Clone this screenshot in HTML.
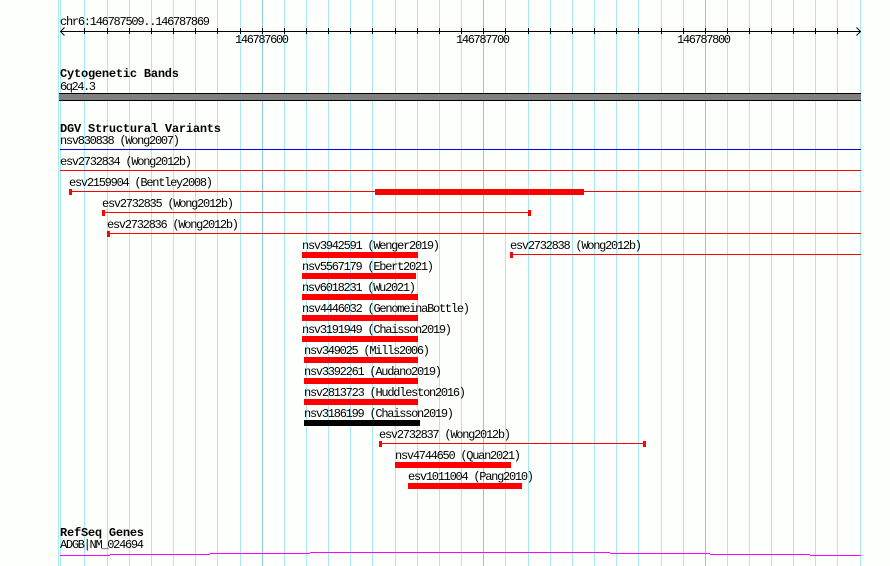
<!DOCTYPE html>
<html>
<head>
<meta charset="utf-8">
<style>
  html, body { margin:0; padding:0; background:#fdfffc; }
  svg { display:block; }
  .t { font-family:"Liberation Mono", "DejaVu Sans Mono", monospace; font-size:12px; fill:#000; }
  .b { font-family:"Liberation Mono", "DejaVu Sans Mono", monospace; font-size:12px; font-weight:bold; fill:#000; }
</style>
</head>
<body>
<svg width="890" height="566" viewBox="0 0 890 566" xmlns="http://www.w3.org/2000/svg" shape-rendering="crispEdges">
  <rect x="0" y="0" width="890" height="566" fill="#fdfffc"/>
  <!-- grid lines -->
  <g fill="#a8eaf0">
    <rect x="58" y="0" width="1" height="566"/>
    <rect x="60" y="0" width="1" height="566"/>
    <rect x="84" y="0" width="1" height="566"/>
    <rect x="107" y="0" width="1" height="566"/>
    <rect x="129" y="0" width="1" height="566"/>
    <rect x="151" y="0" width="1" height="566"/>
    <rect x="173" y="0" width="1" height="566"/>
    <rect x="195" y="0" width="1" height="566"/>
    <rect x="217" y="0" width="1" height="566"/>
    <rect x="240" y="0" width="1" height="566"/>
    <rect x="284" y="0" width="1" height="566"/>
    <rect x="306" y="0" width="1" height="566"/>
    <rect x="328" y="0" width="1" height="566"/>
    <rect x="350" y="0" width="1" height="566"/>
    <rect x="372" y="0" width="1" height="566"/>
    <rect x="395" y="0" width="1" height="566"/>
    <rect x="417" y="0" width="1" height="566"/>
    <rect x="439" y="0" width="1" height="566"/>
    <rect x="461" y="0" width="1" height="566"/>
    <rect x="505" y="0" width="1" height="566"/>
    <rect x="528" y="0" width="1" height="566"/>
    <rect x="550" y="0" width="1" height="566"/>
    <rect x="572" y="0" width="1" height="566"/>
    <rect x="594" y="0" width="1" height="566"/>
    <rect x="616" y="0" width="1" height="566"/>
    <rect x="638" y="0" width="1" height="566"/>
    <rect x="661" y="0" width="1" height="566"/>
    <rect x="683" y="0" width="1" height="566"/>
    <rect x="727" y="0" width="1" height="566"/>
    <rect x="749" y="0" width="1" height="566"/>
    <rect x="771" y="0" width="1" height="566"/>
    <rect x="793" y="0" width="1" height="566"/>
    <rect x="815" y="0" width="1" height="566"/>
    <rect x="837" y="0" width="1" height="566"/>
    <rect x="860" y="0" width="1" height="566"/>
  </g>
  <g fill="#8cc8e6">
    <rect x="262" y="0" width="1" height="566"/>
    <rect x="483" y="0" width="1" height="566"/>
    <rect x="705" y="0" width="1" height="566"/>
  </g>

  <!-- ruler -->
  <text class="t" x="60" y="25" textLength="150" lengthAdjust="spacing">chr6:146787509..146787869</text>
  <rect x="60" y="31" width="801" height="1" fill="#000"/>
  <g fill="#000">
    <rect x="84" y="28" width="1" height="6"/><rect x="107" y="28" width="1" height="6"/>
    <rect x="129" y="28" width="1" height="6"/><rect x="151" y="28" width="1" height="6"/>
    <rect x="173" y="28" width="1" height="6"/><rect x="195" y="28" width="1" height="6"/>
    <rect x="217" y="28" width="1" height="6"/><rect x="240" y="28" width="1" height="6"/>
    <rect x="262" y="28" width="1" height="6"/><rect x="284" y="28" width="1" height="6"/>
    <rect x="306" y="28" width="1" height="6"/><rect x="328" y="28" width="1" height="6"/>
    <rect x="350" y="28" width="1" height="6"/><rect x="372" y="28" width="1" height="6"/>
    <rect x="395" y="28" width="1" height="6"/><rect x="417" y="28" width="1" height="6"/>
    <rect x="439" y="28" width="1" height="6"/><rect x="461" y="28" width="1" height="6"/>
    <rect x="483" y="28" width="1" height="6"/><rect x="505" y="28" width="1" height="6"/>
    <rect x="528" y="28" width="1" height="6"/><rect x="550" y="28" width="1" height="6"/>
    <rect x="572" y="28" width="1" height="6"/><rect x="594" y="28" width="1" height="6"/>
    <rect x="616" y="28" width="1" height="6"/><rect x="638" y="28" width="1" height="6"/>
    <rect x="661" y="28" width="1" height="6"/><rect x="683" y="28" width="1" height="6"/>
    <rect x="705" y="28" width="1" height="6"/><rect x="727" y="28" width="1" height="6"/>
    <rect x="749" y="28" width="1" height="6"/><rect x="771" y="28" width="1" height="6"/>
    <rect x="793" y="28" width="1" height="6"/><rect x="815" y="28" width="1" height="6"/>
    <rect x="837" y="28" width="1" height="6"/>
  </g>
  <path d="M64.5 27.5 L60.5 31.5 L64.5 35.5" stroke="#000" fill="none" stroke-width="1" shape-rendering="auto"/>
  <path d="M856.5 27.5 L860.5 31.5 L856.5 35.5" stroke="#000" fill="none" stroke-width="1" shape-rendering="auto"/>
  <text class="t" x="235" y="43" textLength="54" lengthAdjust="spacing">146787600</text>
  <text class="t" x="456" y="43" textLength="54" lengthAdjust="spacing">146787700</text>
  <text class="t" x="677" y="43" textLength="54" lengthAdjust="spacing">146787800</text>

  <!-- Cytogenetic bands -->
  <text class="b" x="60" y="77" textLength="119" lengthAdjust="spacing">Cytogenetic Bands</text>
  <text class="t" x="60" y="90" textLength="36" lengthAdjust="spacing">6q24.3</text>
  <rect x="59" y="93" width="802" height="8" fill="#000"/>
  <rect x="59" y="94" width="802" height="6" fill="#808080"/>

  <!-- DGV -->
  <text class="b" x="60" y="132" textLength="161" lengthAdjust="spacing">DGV Structural Variants</text>

  <text class="t" x="60" y="144" textLength="120" lengthAdjust="spacing">nsv830838 (Wong2007)</text>
  <rect x="60" y="149" width="801" height="1" fill="#0000e6"/>

  <text class="t" x="60" y="165" textLength="132" lengthAdjust="spacing">esv2732834 (Wong2012b)</text>
  <rect x="60" y="170" width="801" height="1" fill="#ff0000"/>

  <text class="t" x="69" y="186" textLength="144" lengthAdjust="spacing">esv2159904 (Bentley2008)</text>
  <rect x="70" y="191" width="791" height="1" fill="#ff0000"/>
  <rect x="69" y="189" width="3" height="6" fill="#ff0000"/>
  <rect x="375" y="189" width="209" height="6" fill="#ff0000"/>

  <text class="t" x="102" y="207" textLength="132" lengthAdjust="spacing">esv2732835 (Wong2012b)</text>
  <rect x="103" y="212" width="427" height="1" fill="#ff0000"/>
  <rect x="102" y="210" width="3" height="6" fill="#ff0000"/>
  <rect x="528" y="210" width="3" height="6" fill="#ff0000"/>

  <text class="t" x="107" y="228" textLength="132" lengthAdjust="spacing">esv2732836 (Wong2012b)</text>
  <rect x="108" y="233" width="753" height="1" fill="#ff0000"/>
  <rect x="107" y="231" width="3" height="6" fill="#ff0000"/>

  <text class="t" x="302" y="249" textLength="138" lengthAdjust="spacing">nsv3942591 (Wenger2019)</text>
  <rect x="302" y="252" width="116" height="6" fill="#ff0000"/>

  <text class="t" x="510" y="249" textLength="132" lengthAdjust="spacing">esv2732838 (Wong2012b)</text>
  <rect x="511" y="254" width="350" height="1" fill="#ff0000"/>
  <rect x="510" y="252" width="3" height="6" fill="#ff0000"/>

  <text class="t" x="302" y="270" textLength="132" lengthAdjust="spacing">nsv5567179 (Ebert2021)</text>
  <rect x="302" y="273" width="114" height="6" fill="#ff0000"/>

  <text class="t" x="302" y="291" textLength="114" lengthAdjust="spacing">nsv6018231 (Wu2021)</text>
  <rect x="302" y="294" width="116" height="6" fill="#ff0000"/>

  <text class="t" x="302" y="312" textLength="168" lengthAdjust="spacing">nsv4446032 (GenomeinaBottle)</text>
  <rect x="302" y="315" width="116" height="6" fill="#ff0000"/>

  <text class="t" x="302" y="333" textLength="150" lengthAdjust="spacing">nsv3191949 (Chaisson2019)</text>
  <rect x="302" y="336" width="116" height="6" fill="#ff0000"/>

  <text class="t" x="304" y="354" textLength="126" lengthAdjust="spacing">nsv349025 (Mills2006)</text>
  <rect x="304" y="357" width="114" height="6" fill="#ff0000"/>

  <text class="t" x="304" y="375" textLength="138" lengthAdjust="spacing">nsv3392261 (Audano2019)</text>
  <rect x="304" y="378" width="114" height="6" fill="#ff0000"/>

  <text class="t" x="304" y="396" textLength="162" lengthAdjust="spacing">nsv2813723 (Huddleston2016)</text>
  <rect x="304" y="399" width="114" height="6" fill="#ff0000"/>

  <text class="t" x="304" y="417" textLength="150" lengthAdjust="spacing">nsv3186199 (Chaisson2019)</text>
  <rect x="304" y="420" width="116" height="6" fill="#000000"/>

  <text class="t" x="379" y="438" textLength="132" lengthAdjust="spacing">esv2732837 (Wong2012b)</text>
  <rect x="380" y="443" width="265" height="1" fill="#ff0000"/>
  <rect x="379" y="441" width="3" height="6" fill="#ff0000"/>
  <rect x="643" y="441" width="3" height="6" fill="#ff0000"/>

  <text class="t" x="395" y="459" textLength="126" lengthAdjust="spacing">nsv4744650 (Quan2021)</text>
  <rect x="395" y="462" width="116" height="6" fill="#ff0000"/>

  <text class="t" x="408" y="480" textLength="126" lengthAdjust="spacing">esv1011004 (Pang2010)</text>
  <rect x="408" y="483" width="114" height="6" fill="#ff0000"/>

  <!-- RefSeq -->
  <text class="b" x="60" y="536" textLength="84" lengthAdjust="spacing">RefSeq Genes</text>
  <text class="t" x="60" y="548" textLength="84" lengthAdjust="spacing">ADGB|NM_024694</text>
  <g fill="#ff00ff">
    <rect x="60" y="555" width="50" height="1"/>
    <rect x="110" y="554" width="100" height="1"/>
    <rect x="210" y="553" width="100" height="1"/>
    <rect x="310" y="552" width="300" height="1"/>
    <rect x="610" y="553" width="100" height="1"/>
    <rect x="710" y="554" width="100" height="1"/>
    <rect x="810" y="555" width="51" height="1"/>
  </g>
</svg>
</body>
</html>
